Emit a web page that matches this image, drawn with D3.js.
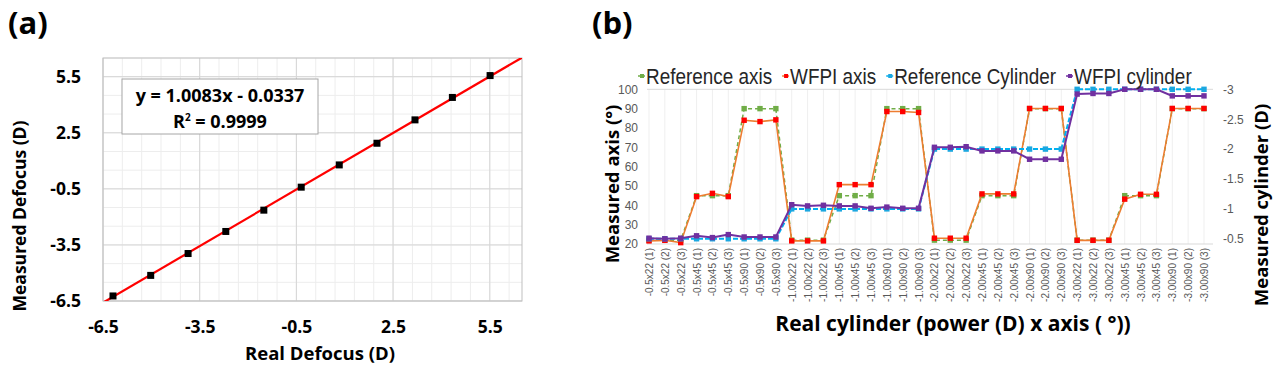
<!DOCTYPE html>
<html>
<meta charset="utf-8">
<style>
  body { margin: 0; background: #fff; }
  .bold { font-family: "Open Sans", "Noto Sans", sans-serif; font-weight: bold; fill: #000; }
  .narrow { font-family: "Liberation Sans", Arial, sans-serif; }
  .ticksB text { fill: #595959; }
</style>
<script src="https://d3js.org/d3.v7.min.js"></script>
<body>
<script>
// ---- panel (a) data ----
var realDefocus = [-6.19, -5.02, -3.86, -2.69, -1.51, -0.35, 0.83, 2.0, 3.18, 4.34, 5.51];
var measuredDefocus = [-6.23, -5.13, -3.96, -2.78, -1.64, -0.41, 0.78, 1.94, 3.19, 4.39, 5.56];
var fitSlope = 1.0083, fitIntercept = -0.0337;
var defocusTicks = [-6.5, -3.5, -0.5, 2.5, 5.5];

// ---- panel (b) data ----
var categories = [
  "-0.5x22 (1)", "-0.5x22 (2)", "-0.5x22 (3)", "-0.5x45 (1)", "-0.5x45 (2)", "-0.5x45 (3)",
  "-0.5x90 (1)", "-0.5x90 (2)", "-0.5x90 (3)",
  "-1.00x22 (1)", "-1.00x22 (2)", "-1.00x22 (3)", "-1.00x45 (1)", "-1.00x45 (2)", "-1.00x45 (3)",
  "-1.00x90 (1)", "-1.00x90 (2)", "-1.00x90 (3)",
  "-2.00x22 (1)", "-2.00x22 (2)", "-2.00x22 (3)", "-2.00x45 (1)", "-2.00x45 (2)", "-2.00x45 (3)",
  "-2.00x90 (1)", "-2.00x90 (2)", "-2.00x90 (3)",
  "-3.00x22 (1)", "-3.00x22 (2)", "-3.00x22 (3)", "-3.00x45 (1)", "-3.00x45 (2)", "-3.00x45 (3)",
  "-3.00x90 (1)", "-3.00x90 (2)", "-3.00x90 (3)"
];
var refAxis = [22, 22, 22, 45, 45, 45, 90, 90, 90,
               22, 22, 22, 45, 45, 45, 90, 90, 90,
               22, 22, 22, 45, 45, 45, 90, 90, 90,
               22, 22, 22, 45, 45, 45, 90, 90, 90];
var wfpiAxis = [21.6, 21.9, 20.7, 44.5, 46.2, 44.5, 84, 83.3, 84.2,
                21.6, 21.6, 21.6, 50.7, 50.7, 50.7, 88.5, 88.5, 88,
                23, 23, 23, 45.9, 45.9, 45.9, 90.1, 90.1, 90.1,
                21.9, 21.9, 21.9, 43.2, 45.7, 45.7, 90.1, 90.1, 90.1];
var refCyl = [-0.5, -0.5, -0.5, -0.5, -0.5, -0.5, -0.5, -0.5, -0.5,
              -1, -1, -1, -1, -1, -1, -1, -1, -1,
              -2, -2, -2, -2, -2, -2, -2, -2, -2,
              -3, -3, -3, -3, -3, -3, -3, -3, -3];
var wfpiCyl = [-0.51, -0.5, -0.51, -0.55, -0.52, -0.57, -0.53, -0.53, -0.53,
               -1.07, -1.05, -1.06, -1.05, -1.05, -1.01, -1.03, -1.01, -1.01,
               -2.03, -2.03, -2.04, -1.97, -1.97, -1.97, -1.83, -1.83, -1.83,
               -2.92, -2.93, -2.93, -3.0, -3.0, -3.0, -2.89, -2.89, -2.89];
var axisTicks = [20, 30, 40, 50, 60, 70, 80, 90, 100];
var cylTicks = [-0.5, -1, -1.5, -2, -2.5, -3];

var svg = d3.select("body").append("svg")
  .attr("width", 1280).attr("height", 371);
svg.append("rect").attr("width", 1280).attr("height", 371).attr("fill", "#fff");

// ================= (a) =================
var xA = d3.scaleLinear().domain([-6.5, 6.5]).range([103, 522]);
var yA = d3.scaleLinear().domain([-6.5, 6.5]).range([301, 58]);

var gA = svg.append("g");

// minor grid
gA.selectAll(".vminor").data(d3.range(-6.5, 6.5, 0.6)).enter().append("line")
  .attr("x1", d => xA(d)).attr("x2", d => xA(d))
  .attr("y1", yA(-6.5)).attr("y2", yA(6.5))
  .attr("stroke", "#ededed");
gA.selectAll(".hminor").data(d3.range(-6.5, 6.6, 1)).enter().append("line")
  .attr("y1", d => yA(d)).attr("y2", d => yA(d))
  .attr("x1", xA(-6.5)).attr("x2", xA(6.5))
  .attr("stroke", "#ededed");
// major grid
gA.selectAll(".vmajor").data(defocusTicks).enter().append("line")
  .attr("x1", d => xA(d)).attr("x2", d => xA(d))
  .attr("y1", yA(-6.5)).attr("y2", yA(6.5))
  .attr("stroke", "#d6d6d6");
gA.selectAll(".hmajor").data(defocusTicks).enter().append("line")
  .attr("y1", d => yA(d)).attr("y2", d => yA(d))
  .attr("x1", xA(-6.5)).attr("x2", xA(6.5))
  .attr("stroke", "#d6d6d6");
gA.append("rect")
  .attr("x", xA(-6.5)).attr("y", yA(6.5))
  .attr("width", xA(6.5) - xA(-6.5)).attr("height", yA(-6.5) - yA(6.5))
  .attr("fill", "none").attr("stroke", "#bfbfbf");

// fit line
svg.append("clipPath").attr("id", "clipA").append("rect")
  .attr("x", xA(-6.5)).attr("y", yA(6.5))
  .attr("width", xA(6.5) - xA(-6.5)).attr("height", yA(-6.5) - yA(6.5));
gA.append("line")
  .attr("clip-path", "url(#clipA)")
  .attr("x1", xA(-6.5)).attr("y1", yA(fitSlope * -6.5 + fitIntercept))
  .attr("x2", xA(6.5)).attr("y2", yA(fitSlope * 6.5 + fitIntercept))
  .attr("stroke", "#ff0000").attr("stroke-width", 2.2);

// points
gA.selectAll(".pt").data(realDefocus).enter().append("rect")
  .attr("x", (d, i) => xA(d) - 3.5)
  .attr("y", (d, i) => yA(measuredDefocus[i]) - 3.5)
  .attr("width", 7).attr("height", 7)
  .attr("fill", "#000");

// axes
var fmtA = d => d.toFixed(1);
var axA = gA.append("g").attr("transform", "translate(0," + yA(-6.5) + ")")
  .call(d3.axisBottom(xA).tickValues(defocusTicks).tickSize(0).tickPadding(20).tickFormat(fmtA));
var ayA = gA.append("g").attr("transform", "translate(" + xA(-6.5) + ",0)")
  .call(d3.axisLeft(yA).tickValues(defocusTicks).tickSize(0).tickPadding(22).tickFormat(fmtA));
[axA, ayA].forEach(function(a) {
  a.select(".domain").remove();
  a.selectAll("text").attr("class", "bold").style("font-size", "17.5px");
});

gA.append("text").attr("class", "bold").style("font-size", "18.5px")
  .attr("x", 320).attr("y", 360).attr("text-anchor", "middle")
  .text("Real Defocus (D)");
gA.append("text").attr("class", "bold").style("font-size", "17.5px")
  .attr("transform", "translate(26,216) rotate(-90)").attr("text-anchor", "middle")
  .text("Measured Defocus (D)");

// equation box
gA.append("rect").attr("x", 122).attr("y", 79).attr("width", 196).attr("height", 55)
  .attr("fill", "#fff").attr("stroke", "#a6a6a6");
gA.append("text").attr("class", "bold").style("font-size", "18px")
  .attr("x", 220).attr("y", 102).attr("text-anchor", "middle")
  .text("y = " + fitSlope.toFixed(4) + "x - " + Math.abs(fitIntercept).toFixed(4));
var r2 = gA.append("text").attr("class", "bold").style("font-size", "18px")
  .attr("x", 220).attr("y", 128).attr("text-anchor", "middle");
r2.append("tspan").text("R");
r2.append("tspan").attr("dy", -7).style("font-size", "10px").text("2");
r2.append("tspan").attr("dy", 7).text(" = 0.9999");

svg.append("text").attr("class", "bold").style("font-size", "31px")
  .attr("x", 8).attr("y", 34).text("(a)");

// ================= (b) =================
var xB = d3.scalePoint().domain(categories).range([649, 1204]);
var yL = d3.scaleLinear().domain([20, 100]).range([244, 89.3]);
var yR = d3.scaleLinear().domain([-0.5, -3]).range([yL(22.7), yL(100)]);
var plotL = 647, plotR = 1213;

var gB = svg.append("g");

gB.selectAll(".vgrid").data(categories).enter().append("line")
  .attr("x1", d => xB(d)).attr("x2", d => xB(d))
  .attr("y1", yL(100)).attr("y2", yL(20))
  .attr("stroke", "#efefef");
gB.selectAll(".hline").data([100, 20]).enter().append("line")
  .attr("x1", plotL).attr("x2", plotR)
  .attr("y1", d => yL(d)).attr("y2", d => yL(d))
  .attr("stroke", "#d9d9d9");

// axis ticks
var ayL = gB.append("g").attr("class", "ticksB narrow").attr("transform", "translate(" + plotL + ",0)")
  .call(d3.axisLeft(yL).tickValues(axisTicks).tickSize(0).tickPadding(9));
var ayR = gB.append("g").attr("class", "ticksB narrow").attr("transform", "translate(" + plotR + ",0)")
  .call(d3.axisRight(yR).tickValues(cylTicks).tickSize(0).tickPadding(10).tickFormat(d => String(d)));
var axB = gB.append("g").attr("class", "ticksB narrow").attr("transform", "translate(0," + yL(20) + ")")
  .call(d3.axisBottom(xB).tickSize(0));
[ayL, ayR, axB].forEach(function(a) {
  a.select(".domain").remove();
  a.selectAll("text").style("font-size", "12px").style("font-family", null);
});
axB.selectAll("text").style("font-size", "10px")
  .attr("transform", "rotate(-90)").attr("text-anchor", "end")
  .attr("x", -4).attr("y", 0).attr("dy", "0.35em");

var series = [
  { name: "Reference axis", values: refAxis, scale: yL, line: "#70AD47", mark: "#70AD47", dash: "4,3", w: 1.5 },
  { name: "WFPI axis", values: wfpiAxis, scale: yL, line: "#ED7D31", mark: "#FF0000", dash: null, w: 1.6 },
  { name: "Reference Cylinder", values: refCyl, scale: yR, line: "#00B0F0", mark: "#1BA7E0", dash: "5,2", w: 2 },
  { name: "WFPI cylinder", values: wfpiCyl, scale: yR, line: "#7030A0", mark: "#7030A0", dash: null, w: 2 }
];

series.forEach(function(s) {
  var line = d3.line()
    .x((d, i) => xB(categories[i]))
    .y(d => s.scale(d));
  gB.append("path").datum(s.values)
    .attr("d", line).attr("fill", "none")
    .attr("stroke", s.line).attr("stroke-width", s.w)
    .attr("stroke-dasharray", s.dash);
  gB.selectAll(null).data(s.values).enter().append("rect")
    .attr("x", (d, i) => xB(categories[i]) - 2.7)
    .attr("y", d => s.scale(d) - 2.7)
    .attr("width", 5.4).attr("height", 5.4)
    .attr("fill", s.mark);
});

// legend (narrow face, squeezed horizontally like the original)
var lx = 640, squeeze = 0.86;
series.forEach(function(s) {
  var item = gB.append("g");
  item.append("line").attr("x1", lx - 2).attr("x2", lx + 5).attr("y1", 76).attr("y2", 76)
    .attr("stroke", s.line).attr("stroke-width", 1.5);
  item.append("rect").attr("x", lx).attr("y", 74).attr("width", 4).attr("height", 4).attr("fill", s.mark);
  var t = item.append("text").attr("class", "narrow").style("font-size", "22px").attr("fill", "#262626")
    .attr("transform", "translate(" + (lx + 6) + ",84) scale(" + squeeze + ",1)")
    .text(s.name);
  lx += 6 + t.node().getComputedTextLength() * squeeze + 12;
});

gB.append("text").attr("class", "bold").style("font-size", "18.5px")
  .attr("transform", "translate(619,184) rotate(-90)").attr("text-anchor", "middle")
  .text("Measured axis (°)");
gB.append("text").attr("class", "bold").style("font-size", "18.5px")
  .attr("transform", "translate(1268,205) rotate(-90)").attr("text-anchor", "middle")
  .text("Measured cylinder (D)");
gB.append("text").attr("class", "bold").style("font-size", "21px")
  .attr("x", 953).attr("y", 331).attr("text-anchor", "middle")
  .text("Real cylinder (power (D) x axis ( °))");

svg.append("text").attr("class", "bold").style("font-size", "31px")
  .attr("x", 592).attr("y", 34).text("(b)");
</script>
</body>
</html>
